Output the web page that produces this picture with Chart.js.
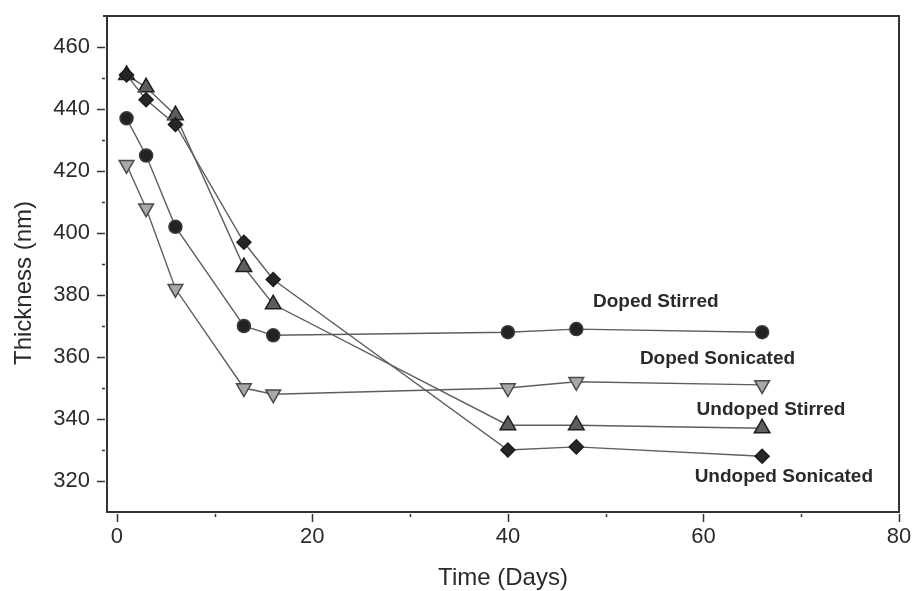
<!DOCTYPE html>
<html>
<head>
<meta charset="utf-8">
<title>Film thickness over time</title>
<script src="https://cdn.jsdelivr.net/npm/chart.js@4.4.1/dist/chart.umd.min.js"></script>
<style>
  html, body { margin: 0; padding: 0; background: #fff; }
  #wrap { width: 916px; height: 591px; }
</style>
</head>
<body>
<div id="wrap"><canvas id="thicknessChart" width="916" height="591"></canvas></div>
<script>
// measurement days and film thickness (nm) for each treatment
const days = [1, 3, 6, 13, 16, 40, 47, 66];
const dopedStirred = [437, 425, 402, 370, 367, 368, 369, 368];
const dopedSonicated = [422, 408, 382, 350, 348, 350, 352, 351];
const undopedStirred = [451, 447, 438, 389, 377, 338, 338, 337];
const undopedSonicated = [451, 443, 435, 397, 385, 330, 331, 328];

// labelled ticks; the scales also step through the unlabelled minor ones
const xTicks = [0, 20, 40, 60, 80];
const yTicks = [320, 340, 360, 380, 400, 420, 440, 460];

const FONT = "'Liberation Sans', Arial, sans-serif";
const INK = '#2a2a2a';

function points(values) {
    return days.map((d, i) => ({x: d, y: values[i]}));
}

// text placed beside the right end of each curve (data units, left/middle anchor)
const curveNotes = [
    {text: 'Doped Stirred', x: 48.7, y: 377.7},
    {text: 'Doped Sonicated', x: 53.5, y: 359.3},
    {text: 'Undoped Stirred', x: 59.3, y: 342.9},
    {text: 'Undoped Sonicated', x: 59.1, y: 321.4}
];

// frame, tick marks, y title and the curve notes
const decorations = {
    id: 'decorations',
    afterDraw(chart) {
        const {ctx, chartArea: a, scales: {x, y}} = chart;
        ctx.save();
        ctx.strokeStyle = '#333';
        ctx.lineWidth = 2;
        ctx.beginPath();
        ctx.moveTo(a.left - 4, a.top);
        ctx.lineTo(a.right, a.top);
        ctx.lineTo(a.right, a.bottom);
        ctx.stroke();

        ctx.lineWidth = 1.5;
        x.ticks.forEach(t => {
            const px = Math.round(x.getPixelForValue(t.value)) + 0.5;
            const len = xTicks.includes(t.value) ? 8 : 3;
            ctx.beginPath();
            ctx.moveTo(px, a.bottom + 2);
            ctx.lineTo(px, a.bottom + 2 + len);
            ctx.stroke();
        });
        y.ticks.forEach(t => {
            if (t.value <= y.min || t.value >= y.max) return;
            const py = Math.round(y.getPixelForValue(t.value)) + 0.5;
            const len = yTicks.includes(t.value) ? 8 : 3;
            ctx.beginPath();
            ctx.moveTo(a.left - 2, py);
            ctx.lineTo(a.left - 2 - len, py);
            ctx.stroke();
        });

        ctx.fillStyle = INK;
        ctx.font = "24px " + FONT;
        ctx.textAlign = 'center';
        ctx.textBaseline = 'middle';
        ctx.translate(24, (a.top + a.bottom) / 2 + 19);
        ctx.rotate(-Math.PI / 2);
        ctx.fillText('Thickness (nm)', 0, 0);
        ctx.setTransform(1, 0, 0, 1, 0, 0);

        ctx.font = "bold 19px " + FONT;
        ctx.textAlign = 'left';
        curveNotes.forEach(n => {
            ctx.fillText(n.text, x.getPixelForValue(n.x), y.getPixelForValue(n.y));
        });
        ctx.restore();
    }
};

const lineColor = '#5e5e5e';

new Chart(document.getElementById('thicknessChart'), {
    type: 'line',
    data: {
        datasets: [{
            label: 'Undoped Sonicated',
            data: points(undopedSonicated),
            pointStyle: 'rectRot',
            pointRadius: 7,
            backgroundColor: '#262626',
            pointBorderColor: '#1c1c1c',
            order: 1
        }, {
            label: 'Undoped Stirred',
            data: points(undopedStirred),
            pointStyle: 'triangle',
            pointRadius: 9,
            backgroundColor: '#5e5e5e',
            pointBorderColor: '#1e1e1e',
            order: 2
        }, {
            label: 'Doped Stirred',
            data: points(dopedStirred),
            pointStyle: 'circle',
            pointRadius: 6.5,
            backgroundColor: '#222',
            pointBorderColor: '#3a3a3a',
            order: 3
        }, {
            label: 'Doped Sonicated',
            data: points(dopedSonicated),
            pointStyle: 'triangle',
            pointRotation: 180,
            pointRadius: 8.5,
            backgroundColor: '#a8a8a8',
            pointBorderColor: '#4a4a4a',
            order: 4
        }].map(ds => Object.assign({
            borderColor: lineColor,
            borderWidth: 1.4,
            pointBorderWidth: 1.5,
            pointBackgroundColor: ds.backgroundColor,
            fill: false,
            tension: 0
        }, ds))
    },
    options: {
        responsive: false,
        animation: false,
        layout: {autoPadding: false, padding: {left: 0, right: 17, top: 16, bottom: 0}},
        plugins: {
            legend: {display: false},
            tooltip: {enabled: false}
        },
        scales: {
            x: {
                type: 'linear',
                min: -1,
                max: 80,
                grid: {display: false},
                border: {display: true, color: '#333', width: 2},
                ticks: {
                    stepSize: 10,
                    includeBounds: false,
                    autoSkip: false,
                    maxRotation: 0,
                    padding: 4,
                    color: INK,
                    font: {family: FONT, size: 22},
                    callback: v => xTicks.includes(v) ? String(v) : ''
                },
                title: {
                    display: true,
                    text: 'Time (Days)',
                    color: INK,
                    font: {family: FONT, size: 24, lineHeight: 1},
                    padding: {top: 0, bottom: 1}
                },
                afterFit: s => {
                    s.height = 79;
                    s.paddingLeft = 0;
                    s.paddingRight = 0;
                }
            },
            y: {
                min: 310,
                max: 470,
                grid: {display: false},
                border: {display: true, color: '#333', width: 2},
                ticks: {
                    stepSize: 10,
                    autoSkip: false,
                    padding: 9,
                    color: INK,
                    font: {family: FONT, size: 22},
                    callback: v => yTicks.includes(v) ? String(v) : ''
                },
                afterFit: s => {
                    s.width = 107;
                    s.paddingTop = 0;
                    s.paddingBottom = 0;
                }
            }
        }
    },
    plugins: [decorations]
});
</script>
</body>
</html>
